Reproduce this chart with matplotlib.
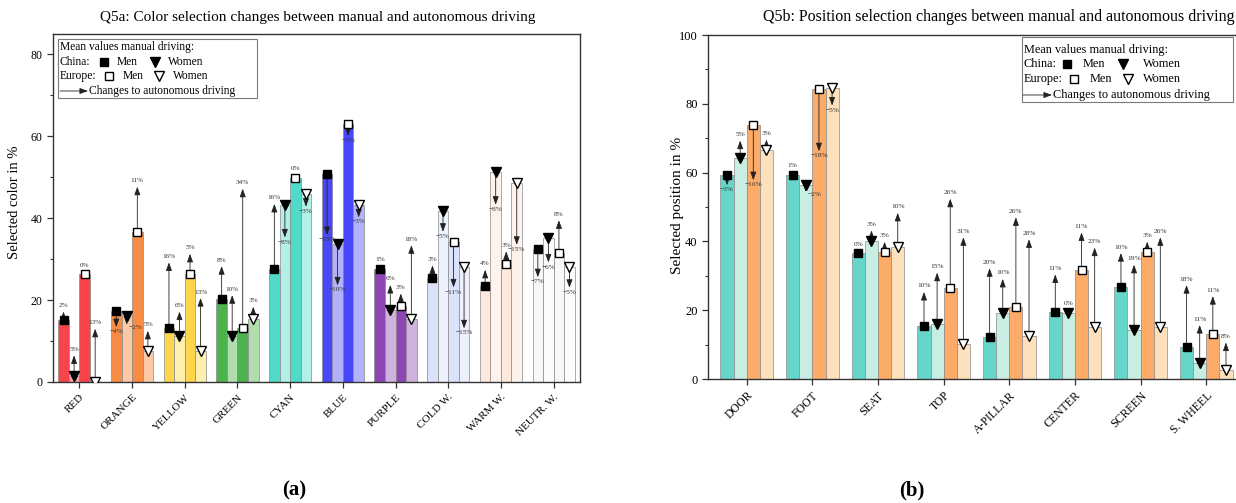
import numpy as np
import matplotlib.pyplot as plt
from matplotlib.lines import Line2D
from matplotlib.patches import Rectangle, FancyArrowPatch
from matplotlib.ticker import MultipleLocator

W, H = 1236, 503

plt.rcParams['font.family'] = ['Liberation Serif', 'DejaVu Serif']

# Q5a: colour selection, mean values for manual driving and change (pp) when autonomous
color_cats = ['RED', 'ORANGE', 'YELLOW', 'GREEN', 'CYAN', 'BLUE', 'PURPLE',
              'COLD W.', 'WARM W.', 'NEUTR. W.']
color_cn_men = [15.2, 17.4, 13.2, 20.3, 27.5, 50.9, 27.5, 25.5, 23.4, 32.6]
color_cn_women = [1.5, 16.0, 11.2, 11.2, 43.3, 33.6, 17.7, 41.7, 51.3, 35.2]
color_eu_men = [26.3, 36.7, 26.3, 13.2, 49.9, 63.1, 18.6, 34.1, 28.9, 31.5]
color_eu_women = [0.0, 7.5, 7.5, 15.4, 45.8, 43.2, 15.4, 28.1, 48.5, 28.0]
color_cn_men_chg = [2, -4, 16, 8, 16, -15, 1, 3, 4, -7]
color_cn_women_chg = [5, -2, 6, 10, -8, -10, 6, -5, -8, -6]
color_eu_men_chg = [0, 11, 5, 34, 0, -3, 3, -11, 3, 8]
color_eu_women_chg = [13, 5, 13, 3, -3, -3, 18, -15, -15, -5]

color_solid = ['#f7434a', '#f98c45', '#fdd64b', '#4cb34f', '#50dbc9', '#4848fa',
               '#8f45b3', '#dbe2fb', '#fde9dc', '#f8f8f8']
color_light = ['#f5a3a6', '#fcc9a6', '#fdefad', '#b0dcae', '#b2efe6', '#b2b2fb',
               '#d0b2de', '#edf0fd', '#fdf3ec', '#fcfcfc']

# Q5b: position selection
pos_cats = ['DOOR', 'FOOT', 'SEAT', 'TOP', 'A-PILLAR', 'CENTER', 'SCREEN', 'S. WHEEL']
pos_cn_men = [59.3, 59.3, 36.7, 15.3, 12.2, 19.4, 26.6, 9.3]
pos_cn_women = [64.3, 56.4, 40.2, 15.9, 19.1, 19.3, 14.2, 4.7]
pos_eu_men = [73.8, 84.2, 36.9, 26.4, 21.0, 31.6, 36.9, 13.1]
pos_eu_women = [66.6, 84.5, 38.3, 10.2, 12.6, 15.2, 15.2, 2.6]
pos_cn_men_chg = [-3, 1, 0, 10, 20, 11, 10, 18]
pos_cn_women_chg = [5, -2, 3, 15, 10, 0, 19, 11]
pos_eu_men_chg = [-16, -18, 3, 26, 26, 11, 3, 11]
pos_eu_women_chg = [3, -5, 10, 31, 28, 23, 26, 8]

CHINA = '#66d6ca'
CHINA_LIGHT = '#c8eee3'
EUROPE = '#fdab68'
EUROPE_LIGHT = '#fde1bd'

OFFSETS = [-0.3, -0.1, 0.1, 0.3]
MARKERS = [('s', 'k'), ('v', 'k'), ('s', 'w'), ('v', 'w')]
MARKER_SIZE = {'s': 5.2, 'v': 7.5}
EDGE = '#8a8a8a'
ARROW = '-|>,head_length=0.55,head_width=0.2'


def fx(px):
    return px / W


def fy(py):
    return 1 - py / H


def pct(c):
    return ('\u2212%d%%' % -c) if c < 0 else ('%d%%' % c)


def draw_panel(ax, cats, groups, changes, fills, fs_lab):
    x = np.arange(len(cats))
    for k, (vals, chg) in enumerate(zip(groups, changes)):
        xs = x + OFFSETS[k]
        ax.bar(xs, vals, width=0.2, color=fills[k], edgecolor=EDGE,
               linewidth=0.5, zorder=2)
        for xi, v, c in zip(xs, vals, chg):
            end = v + c
            if c != 0:
                ax.annotate('', xy=(xi, end), xytext=(xi, v),
                            arrowprops=dict(arrowstyle=ARROW, color='#222222',
                                            lw=0.6, mutation_scale=9,
                                            shrinkA=0, shrinkB=0),
                            zorder=3)
            kw = dict(textcoords='offset points', fontsize=fs_lab,
                      color='#333333', zorder=6)
            if c > 0:
                ax.annotate(pct(c), (xi, end), xytext=(0, 2.5), ha='center',
                            va='bottom', **kw)
            elif c < -2:
                ax.annotate(pct(c), (xi, end), xytext=(0, -1.5), ha='center',
                            va='top', **kw)
            elif c < 0:
                # short drop: label sits beside the marker
                ax.annotate(pct(c), (xi, end), xytext=(1.5, -2), ha='left',
                            va='center', **kw)
            else:
                ax.annotate(pct(c), (xi, v), xytext=(0, 4.5), ha='center',
                            va='bottom', **kw)
        m, face = MARKERS[k]
        ax.plot(xs, vals, linestyle='none', marker=m, ms=MARKER_SIZE[m],
                mfc=face, mec='k', mew=1.0, zorder=5)
    ax.set_xticks(x)
    ax.set_xlim(-0.5, len(cats) - 0.5)
    for s in ax.spines.values():
        s.set_color('#333333')
        s.set_linewidth(1.0)
    ax.tick_params(axis='both', which='both', direction='out', color='#333333')
    ax.tick_params(axis='both', which='major', length=4, width=0.9)
    ax.tick_params(axis='y', which='minor', length=2.5, width=0.8)
    ax.tick_params(axis='x', which='minor', bottom=False)
    ax.yaxis.set_major_locator(MultipleLocator(20))
    ax.yaxis.set_minor_locator(MultipleLocator(10))


def draw_key(fig, box, rows, fs):
    # box: left, top, right, bottom in pixels; rows: y of each text line
    l, t, r, b = box
    fig.add_artist(Rectangle((fx(l), fy(b)), fx(r) - fx(l), fy(t) - fy(b),
                             transform=fig.transFigure, fill=False,
                             ec='#7a7a7a', lw=0.8))
    y0, y1, y2, y3 = rows['y']
    fig.text(fx(l + 2), fy(y0), 'Mean values manual driving:', fontsize=fs,
             va='center')
    fig.text(fx(l + 2), fy(y1), 'China:', fontsize=fs, va='center')
    fig.text(fx(l + 2), fy(y2), 'Europe:', fontsize=fs, va='center')
    for (xm, xt, m, face, y, lab) in rows['items']:
        fig.add_artist(Line2D([fx(xm)], [fy(y)], marker=m, ms=MARKER_SIZE[m],
                              mfc=face, mec='k', mew=1.0, linestyle='none',
                              transform=fig.transFigure))
        fig.text(fx(xt), fy(y), lab, fontsize=fs, va='center')
    xa0, xa1, xt = rows['arrow']
    fig.add_artist(FancyArrowPatch((fx(xa0), fy(y3)), (fx(xa1), fy(y3)),
                                   transform=fig.transFigure, arrowstyle=ARROW,
                                   mutation_scale=9, color='#222222', lw=0.6,
                                   shrinkA=0, shrinkB=0))
    fig.text(fx(xt), fy(y3), 'Changes to autonomous driving', fontsize=fs,
             va='center')


fig = plt.figure(figsize=(W / 100, H / 100), dpi=100)

# left panel
ax1 = fig.add_axes([fx(53), fy(382), fx(580) - fx(53), fy(34) - fy(382)])
draw_panel(ax1, color_cats,
           [color_cn_men, color_cn_women, color_eu_men, color_eu_women],
           [color_cn_men_chg, color_cn_women_chg, color_eu_men_chg, color_eu_women_chg],
           [color_solid, color_light, color_solid, color_light], 5.2)
ax1.set_ylim(0, 85)
ax1.set_xticklabels(color_cats, rotation=45, ha='right', va='top',
                    rotation_mode='anchor', fontsize=8)
ax1.tick_params(axis='y', labelsize=8.5)
fig.text(fx(15), fy(202), 'Selected color in %', rotation=90, ha='center',
         va='center', fontsize=10.5)
fig.text(fx(318), fy(17), 'Q5a: Color selection changes between manual and autonomous driving',
         ha='center', va='center', fontsize=11)

# right panel, extends past the figure edge
ax2 = fig.add_axes([fx(708), fy(379), fx(1245) - fx(708), fy(35) - fy(379)])
draw_panel(ax2, pos_cats,
           [pos_cn_men, pos_cn_women, pos_eu_men, pos_eu_women],
           [pos_cn_men_chg, pos_cn_women_chg, pos_eu_men_chg, pos_eu_women_chg],
           [CHINA, CHINA_LIGHT, EUROPE, EUROPE_LIGHT], 5.3)
ax2.set_xlim(-0.59, len(pos_cats) - 0.41)
ax2.set_ylim(0, 100)
ax2.set_xticklabels(pos_cats, rotation=45, ha='right', va='top',
                    rotation_mode='anchor', fontsize=8.5)
ax2.tick_params(axis='y', labelsize=9)
fig.text(fx(677), fy(205), 'Selected position in %', rotation=90, ha='center',
         va='center', fontsize=11)
fig.text(fx(999), fy(17), 'Q5b: Position selection changes between manual and autonomous driving',
         ha='center', va='center', fontsize=11.5)

draw_key(fig, (58, 39, 257, 98),
         {'y': (47, 62, 76, 91),
          'items': [(104, 117, 's', 'k', 62, 'Men'), (155, 168, 'v', 'k', 62, 'Women'),
                    (109, 123, 's', 'w', 76, 'Men'), (159, 173, 'v', 'w', 76, 'Women')],
          'arrow': (60, 88, 89)}, 8.3)
draw_key(fig, (1022, 37, 1233, 102),
         {'y': (50, 64, 79, 95),
          'items': [(1067, 1083, 's', 'k', 64, 'Men'), (1123, 1143, 'v', 'k', 64, 'Women'),
                    (1074, 1090, 's', 'w', 79, 'Men'), (1128, 1143, 'v', 'w', 79, 'Women')],
          'arrow': (1023, 1052, 1053)}, 8.8)

fig.text(fx(294), fy(490), '(a)', ha='center', va='center', fontsize=15,
         fontweight='bold')
fig.text(fx(912), fy(490), '(b)', ha='center', va='center', fontsize=15,
         fontweight='bold')

fig.savefig('out.png', dpi=100)
